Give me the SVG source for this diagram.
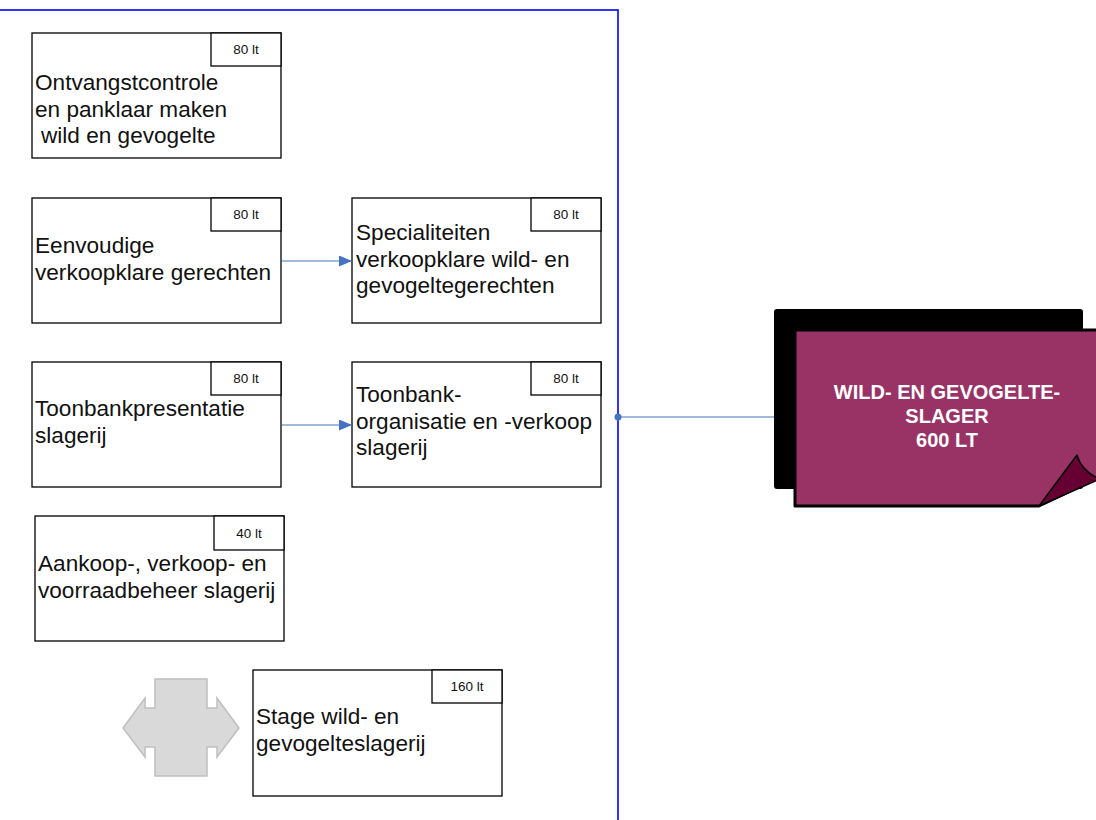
<svg xmlns="http://www.w3.org/2000/svg" width="1096" height="820" viewBox="0 0 1096 820">
<defs>
<style>
.box{fill:#fff;stroke:#000;stroke-width:1.3}
.t{font-family:"Liberation Sans",Arial,sans-serif;font-size:22.6px;fill:#111}
.lb{font-family:"Liberation Sans",Arial,sans-serif;font-size:13.5px;fill:#111;text-anchor:middle}
.conn{stroke:#4472c4;stroke-width:1.2;fill:none}
.w{font-family:"Liberation Sans",Arial,sans-serif;font-size:20px;font-weight:bold;fill:#fff;text-anchor:middle}
</style>
<marker id="ah" markerWidth="13" markerHeight="11" refX="12" refY="5.5" orient="auto" markerUnits="userSpaceOnUse">
<path d="M0,0 L13,5.5 L0,11 Z" fill="#4472c4"/>
</marker>
</defs>
<rect x="0" y="0" width="1096" height="820" fill="#fff"/>
<rect id="container" x="-10" y="10" width="628" height="830" fill="none" stroke="#0000ff" stroke-width="1.6"/>

<g id="n1">
<rect class="box" x="32" y="33" width="249" height="125"/>
<rect class="box" x="211" y="33" width="70" height="33"/>
<text class="lb" x="246" y="54">80 lt</text>
<text class="t" x="35" y="90">Ontvangstcontrole</text>
<text class="t" x="35" y="116.5">en panklaar maken</text>
<text class="t" x="41" y="143">wild en gevogelte</text>
</g>
<g id="n2">
<rect class="box" x="32" y="198" width="249" height="125"/>
<rect class="box" x="211" y="198" width="70" height="33"/>
<text class="lb" x="246" y="219">80 lt</text>
<text class="t" x="35" y="253">Eenvoudige</text>
<text class="t" x="35" y="279.5">verkoopklare gerechten</text>
</g>
<g id="n3">
<rect class="box" x="352" y="198" width="249" height="125"/>
<rect class="box" x="531" y="198" width="70" height="33"/>
<text class="lb" x="566" y="219">80 lt</text>
<text class="t" x="356" y="240">Specialiteiten</text>
<text class="t" x="356" y="266.5">verkoopklare wild- en</text>
<text class="t" x="356" y="293">gevogeltegerechten</text>
</g>
<g id="n4">
<rect class="box" x="32" y="362" width="249" height="125"/>
<rect class="box" x="211" y="362" width="70" height="33"/>
<text class="lb" x="246" y="383">80 lt</text>
<text class="t" x="35" y="416">Toonbankpresentatie</text>
<text class="t" x="35" y="443">slagerij</text>
</g>
<g id="n5">
<rect class="box" x="352" y="362" width="249" height="125"/>
<rect class="box" x="531" y="362" width="70" height="33"/>
<text class="lb" x="566" y="383">80 lt</text>
<text class="t" x="356" y="402">Toonbank-</text>
<text class="t" x="356" y="428.5">organisatie en -verkoop</text>
<text class="t" x="356" y="455">slagerij</text>
</g>
<g id="n6">
<rect class="box" x="35" y="516" width="249" height="125"/>
<rect class="box" x="214" y="516" width="70" height="34"/>
<text class="lb" x="249" y="538">40 lt</text>
<text class="t" x="38" y="571">Aankoop-, verkoop- en</text>
<text class="t" x="38" y="598">voorraadbeheer slagerij</text>
</g>
<g id="n7">
<rect class="box" x="253" y="670" width="249" height="126"/>
<rect class="box" x="432" y="670" width="70" height="33"/>
<text class="lb" x="467" y="691">160 lt</text>
<text class="t" x="256" y="724">Stage wild- en</text>
<text class="t" x="256" y="751">gevogelteslagerij</text>
</g>
<g id="cross">
<polygon points="155,679 207,679 207,708 217,708 217,698 239,728 217,757 217,747 207,747 207,776 155,776 155,747 145,747 145,757 123,728 145,698 145,708 155,708" fill="#d9d9d9" stroke="#bfbfbf" stroke-width="1.5"/>
</g>
<g id="main">
<rect x="774" y="309" width="309" height="180" rx="3" fill="#000"/>
<path d="M795,330 H1100 V477 L1039,506 H795 Z" fill="#993366" stroke="#000" stroke-width="3" stroke-linejoin="round"/>
<path d="M1039,506 L1077,455 Q1082,472 1100,479 Z" fill="#660033" stroke="#000" stroke-width="1.5" stroke-linejoin="round"/>
<text class="w" x="947" y="399">WILD- EN GEVOGELTE-</text>
<text class="w" x="947" y="423">SLAGER</text>
<text class="w" x="947" y="447">600 LT</text>
</g>
<g id="connectors">
<line class="conn" x1="282" y1="261" x2="351" y2="261" marker-end="url(#ah)"/>
<line class="conn" x1="282" y1="425" x2="351" y2="425" marker-end="url(#ah)"/>
<line class="conn" x1="618" y1="417" x2="774" y2="417"/>
<circle cx="618" cy="417" r="3.5" fill="#4472c4"/>
</g>
</svg>
